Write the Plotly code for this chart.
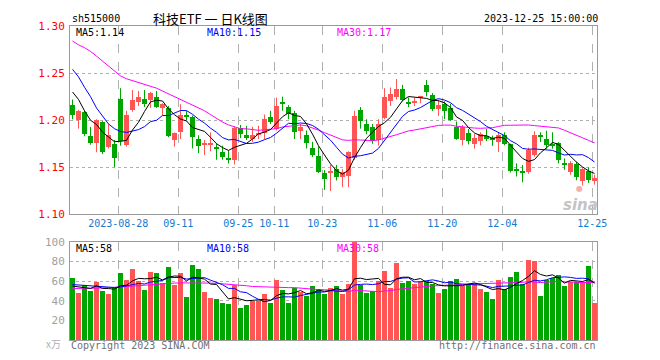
import numpy as np
import pandas as pd
import plotly.graph_objects as go

# ---------------- data ----------------
holidays = ["2023-09-29", "2023-10-02", "2023-10-03", "2023-10-04", "2023-10-05", "2023-10-06"]
dates = [d.strftime("%Y-%m-%d") for d in pd.bdate_range("2023-08-16", "2023-12-25")
         if d.strftime("%Y-%m-%d") not in holidays]

open_ = [1.216, 1.200, 1.209, 1.183, 1.176, 1.198, 1.172, 1.175, 1.223, 1.174,
         1.211, 1.219, 1.223, 1.221, 1.225, 1.213, 1.213, 1.179, 1.188, 1.206,
         1.203, 1.180, 1.1745, 1.1740, 1.172, 1.166, 1.1588, 1.158, 1.192, 1.184,
         1.180, 1.1847, 1.186, 1.2035, 1.191, 1.219, 1.214, 1.208, 1.189, 1.184,
         1.171, 1.162, 1.144, 1.1448, 1.148, 1.1395, 1.1403, 1.1594, 1.2104, 1.1958,
         1.1931, 1.1785, 1.2028, 1.2208, 1.2243, 1.2333, 1.2184, 1.2191, 1.2236, 1.2375,
         1.2264, 1.2122, 1.2167, 1.2125, 1.1931, 1.1792, 1.1865, 1.1743, 1.1778, 1.1837,
         1.1813, 1.1768, 1.1847, 1.1743, 1.1486, 1.1466, 1.1445, 1.1629, 1.1833, 1.1802,
         1.1750, 1.1757, 1.1542, 1.1455, 1.1535, 1.1351, 1.1466, 1.1351]
high = [1.222, 1.211, 1.210, 1.193, 1.201, 1.199, 1.196, 1.179, 1.234, 1.210,
        1.232, 1.231, 1.232, 1.230, 1.231, 1.218, 1.215, 1.187, 1.217, 1.210,
        1.205, 1.184, 1.179, 1.187, 1.175, 1.173, 1.168, 1.193, 1.195, 1.194,
        1.193, 1.194, 1.206, 1.210, 1.224, 1.225, 1.216, 1.210, 1.196, 1.189,
        1.177, 1.172, 1.147, 1.1525, 1.1525, 1.148, 1.167, 1.210, 1.214, 1.201,
        1.196, 1.201, 1.234, 1.2347, 1.2438, 1.2375, 1.2243, 1.2236, 1.226, 1.2427,
        1.2288, 1.2219, 1.2201, 1.2174, 1.1986, 1.1948, 1.1907, 1.1854, 1.1872, 1.1907,
        1.1837, 1.1872, 1.1872, 1.1750, 1.1542, 1.1525, 1.1709, 1.1882, 1.1872, 1.1889,
        1.1872, 1.1768, 1.1594, 1.1566, 1.1560, 1.1490, 1.1500, 1.1421]
low = [1.201, 1.191, 1.183, 1.174, 1.166, 1.164, 1.170, 1.150, 1.173, 1.172,
       1.209, 1.215, 1.214, 1.213, 1.213, 1.205, 1.182, 1.172, 1.180, 1.200,
       1.170, 1.165, 1.163, 1.167, 1.158, 1.158, 1.154, 1.153, 1.181, 1.179,
       1.177, 1.180, 1.180, 1.196, 1.189, 1.210, 1.201, 1.180, 1.180, 1.170,
       1.161, 1.144, 1.126, 1.1247, 1.136, 1.129, 1.129, 1.158, 1.191, 1.185,
       1.175, 1.173, 1.201, 1.215, 1.2219, 1.2201, 1.2139, 1.215, 1.218, 1.2253,
       1.2097, 1.2045, 1.2011, 1.1993, 1.1792, 1.1733, 1.1743, 1.1698, 1.1733, 1.1778,
       1.1728, 1.1663, 1.1733, 1.1445, 1.1403, 1.1341, 1.1431, 1.1612, 1.1768, 1.1698,
       1.1698, 1.1542, 1.1473, 1.1421, 1.1362, 1.1306, 1.1334, 1.1317]
close = [1.206, 1.210, 1.185, 1.176, 1.200, 1.166, 1.184, 1.160, 1.178, 1.205,
         1.221, 1.225, 1.217, 1.229, 1.214, 1.217, 1.183, 1.186, 1.206, 1.204,
         1.182, 1.173, 1.1755, 1.1750, 1.170, 1.161, 1.1582, 1.192, 1.185, 1.181,
         1.184, 1.1858, 1.201, 1.1986, 1.215, 1.2178, 1.207, 1.187, 1.193, 1.176,
         1.163, 1.1455, 1.138, 1.1458, 1.140, 1.1445, 1.1663, 1.2045, 1.1993, 1.1889,
         1.1778, 1.1958, 1.225, 1.2278, 1.2333, 1.2219, 1.2177, 1.2208, 1.2253, 1.2299,
         1.2115, 1.216, 1.2097, 1.200, 1.1802, 1.1931, 1.1778, 1.1813, 1.1854, 1.1802,
         1.1785, 1.1847, 1.175, 1.1465, 1.1466, 1.1445, 1.1688, 1.1847, 1.1823, 1.1733,
         1.1733, 1.1577, 1.1525, 1.1542, 1.1396, 1.148, 1.1369, 1.1386]
volume = [63, 48, 56, 50, 59, 50, 47, 53, 68, 61,
          72, 60, 51, 69, 68, 58, 75, 56, 68, 44,
          77, 72, 49, 43, 42, 38, 37, 56, 33, 36,
          40, 40, 47, 38, 61, 51, 38, 53, 49, 45,
          55, 52, 47, 53, 55, 47, 57, 100, 56, 48,
          50, 60, 70, 53, 79, 58, 60, 57, 59, 60,
          57, 48, 52, 60, 62, 55, 56, 58, 52, 49,
          42, 61, 52, 64, 69, 57, 82, 81, 45, 61,
          63, 66, 55, 59, 59, 59, 76, 38]

# moving-average values before enough history exists in the window
ma5_head = [1.230, 1.222, 1.210, 1.200]
ma10_head = [1.254, 1.246, 1.235, 1.225, 1.213, 1.204, 1.196, 1.191, 1.188]
ma30_head = [1.284, 1.280, 1.277, 1.273, 1.268, 1.263, 1.257, 1.252, 1.247, 1.244,
             1.242, 1.240, 1.238, 1.236, 1.234, 1.231, 1.228, 1.225, 1.222, 1.219,
             1.216, 1.213, 1.210, 1.206, 1.202, 1.198, 1.195, 1.193, 1.191]
vma5_head = [55, 54, 53, 52.5]
vma10_head = [56.5, 56, 55.5, 55, 54.5, 54, 53.5, 53.5, 54]
vma30_head = [52.5, 52.5, 52.5, 52.7, 53, 53, 53.3, 53.5, 54, 54.5,
              55, 55.5, 56, 56.5, 57, 57.5, 57.7, 58, 58.2, 58.3,
              58.3, 58.3, 58.2, 58, 57.7, 57.3, 56.5, 56, 55.5]

tick_dates = ["2023-08-28", "2023-09-11", "2023-09-25", "2023-10-11", "2023-10-23",
              "2023-11-06", "2023-11-20", "2023-12-04", "2023-12-25"]
tick_labels = ["2023-08-28", "09-11", "09-25", "10-11", "10-23", "11-06", "11-20", "12-04", "12-25"]
price_ticks = [1.10, 1.15, 1.20, 1.25, 1.30]
vol_ticks = [20, 40, 60, 80, 100]
price_ma_labels = ["MA5:1.14", "MA10:1.15", "MA30:1.17"]
vol_ma_labels = ["MA5:58", "MA10:58", "MA30:58"]

# ---------------- styling ----------------
RED = "#ff5555"
GREEN = "#00a600"
MONO = "DejaVu Sans Mono"
GRID = "#b0b0b0"
BORDER = "#9a9a9a"
BLUE_TXT = "#1479d0"


def ma_with_head(values, n, head):
    s = pd.Series(values, dtype=float).rolling(n).mean().to_numpy()
    s[:n - 1] = head
    return s


idx = np.arange(len(dates))
o = np.array(open_); h = np.array(high); l = np.array(low); c = np.array(close)
up = c >= o
colors = [RED if u else GREEN for u in up]
base = np.minimum(o, c)
body = np.maximum(np.abs(c - o), 0.0011)

ma5 = ma_with_head(close, 5, ma5_head)
ma10 = ma_with_head(close, 10, ma10_head)
ma30 = ma_with_head(close, 30, ma30_head)
vma5 = ma_with_head(volume, 5, vma5_head)
vma10 = ma_with_head(volume, 10, vma10_head)
vma30 = ma_with_head(volume, 30, vma30_head)

fig = go.Figure()

# wicks
for flag, col in ((True, RED), (False, GREEN)):
    wx, wy = [], []
    for i in idx[up == flag]:
        wx += [i, i, None]
        wy += [l[i], h[i], None]
    fig.add_trace(go.Scatter(x=wx, y=wy, mode="lines", line=dict(color=col, width=1),
                             xaxis="x", yaxis="y", hoverinfo="skip"))

# bodies
fig.add_trace(go.Bar(x=idx, y=body, base=base, width=0.8, marker=dict(color=colors, line=dict(width=0)),
                     xaxis="x", yaxis="y", hoverinfo="skip"))

for s, col in ((ma30, "#ff00ff"), (ma10, "#0000ff"), (ma5, "#000000")):
    fig.add_trace(go.Scatter(x=idx, y=s, mode="lines", line=dict(color=col, width=1),
                             xaxis="x", yaxis="y", hoverinfo="skip"))

# volume
fig.add_trace(go.Bar(x=idx, y=volume, width=0.8, marker=dict(color=colors, line=dict(width=0)),
                     xaxis="x2", yaxis="y2", hoverinfo="skip"))
for s, col in ((vma30, "#ff00ff"), (vma10, "#0000ff"), (vma5, "#000000")):
    fig.add_trace(go.Scatter(x=idx, y=s, mode="lines", line=dict(color=col, width=1),
                             xaxis="x2", yaxis="y2", hoverinfo="skip"))

tickpos = [dates.index(d) - 0.37 for d in tick_dates]
xrange = [-0.4167, len(dates) - 1 + 0.4167]

common_x = dict(range=xrange, tickvals=tickpos, showgrid=True, gridcolor=GRID, griddash="dash",
                gridwidth=1, showline=True, linecolor=BORDER, linewidth=1, mirror=True,
                zeroline=False, ticks="", fixedrange=True)

# the page body has an 8px default margin, so the figure is 8px smaller on each axis
fig.update_layout(
    width=652, height=352,
    margin=dict(l=62, r=63, t=12, b=20),
    paper_bgcolor="white", plot_bgcolor="white",
    showlegend=False, bargap=0,
    font=dict(family=MONO, size=10, color="#000"),
    xaxis=dict(domain=[0, 1], anchor="y", ticktext=tick_labels,
               tickfont=dict(family=MONO, size=10, color=BLUE_TXT), **common_x),
    yaxis=dict(domain=[0.4, 1], range=[1.10, 1.30], tickvals=price_ticks,
               ticktext=[f"{v:.2f}" for v in price_ticks],
               tickfont=dict(family=MONO, size=11, color="#ff0000"),
               showgrid=True, gridcolor=GRID, griddash="dot", showline=True, linecolor=BORDER,
               mirror=True, zeroline=False, ticks="", ticklabelstandoff=2),
    xaxis2=dict(domain=[0, 1], anchor="y2", showticklabels=False, **common_x),
    yaxis2=dict(domain=[0, 0.3125], range=[0, 100], tickvals=vol_ticks,
                ticktext=[str(v) for v in vol_ticks],
                tickfont=dict(family=MONO, size=11, color="#a0a0a0"),
                showgrid=True, gridcolor=GRID, griddash="dot", showline=True, linecolor=BORDER,
                mirror=True, zeroline=False, ticks="", ticklabelstandoff=2),
)


def px(xp):
    return (xp - 70) / 527


def py(yp):
    return (340 - yp) / 320


ann = []
ann.append(dict(text="sh515000", x=px(70), y=py(12), xanchor="left"))
ann.append(dict(text="科技ETF 一 日K线图", x=px(151), y=py(12), xanchor="left",
                font=dict(family="Noto Sans CJK SC", size=13, color="#000")))
ann.append(dict(text="2023-12-25 15:00:00", x=px(600), y=py(12), xanchor="right"))
ma_cols = ["#000000", "#0000ff", "#ff00ff"]
ma_x = [74, 205, 335]
for t, col, xx in zip(price_ma_labels, ma_cols, ma_x):
    ann.append(dict(text=t, x=px(xx), y=py(27), xanchor="left", font=dict(family=MONO, size=10, color=col)))
for t, col, xx in zip(vol_ma_labels, ma_cols, ma_x):
    ann.append(dict(text=t, x=px(xx), y=py(247), xanchor="left", font=dict(family=MONO, size=10, color=col)))
ann.append(dict(text="Copyright 2023 SINA.COM", x=px(69), y=py(346), xanchor="left",
                font=dict(family=MONO, size=10, color="#707070")))
ann.append(dict(text="http://finance.sina.com.cn", x=px(598), y=py(346), xanchor="right",
                font=dict(family=MONO, size=10, color="#707070")))
ann.append(dict(text="x万", x=px(63), y=py(344), xanchor="right",
                font=dict(family="Noto Sans CJK SC", size=10, color="#b0b0b0")))
ann.append(dict(text="<b><i>sina</i></b>", x=px(580), y=py(202), xanchor="center",
                font=dict(family="DejaVu Sans", size=15, color="#c4c4c4")))
ann.append(dict(text="●", x=px(579), y=py(186), xanchor="center",
                font=dict(family="DejaVu Sans", size=8, color="#f3b0b0")))
for a in ann:
    a.setdefault("font", dict(family=MONO, size=10, color="#000"))
    a.update(xref="paper", yref="paper", yanchor="middle", showarrow=False)
fig.update_layout(annotations=ann)

fig.write_html("out.html")
